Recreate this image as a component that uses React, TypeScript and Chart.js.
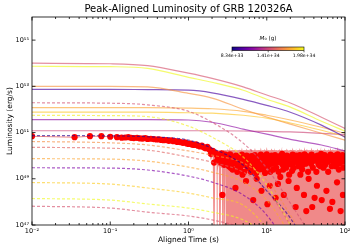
import React, { useEffect, useRef } from 'react';
import { Chart, registerables } from 'chart.js';

Chart.register(...registerables);

// ---------- data ----------
const xTickExponents = [-2, -1, 0, 1, 2];
const yTickExponents = [47, 49, 51, 53, 55];
const colorbarTicks = [8.34e33, 1.41e34, 1.98e34];

// model light curves, sampled at these times (s)
const modelTime = [0.01, 0.1, 0.3, 1, 2, 5, 10, 20, 50, 100];
const curve01 = [1.0e54, 9.5e53, 7.9e53, 3.7e53, 2.2e53, 9.5e52, 4.2e52, 1.9e52, 4.6e51, 1.5e51];
const curve02 = [7.4e53, 7.1e53, 6.0e53, 2.45e53, 1.5e53, 6.8e52, 2.75e52, 1.26e52, 3.1e51, 1.15e51];
const curve03 = [1.0e53, 1.0e53, 9.5e52, 5.0e52, 3.1e52, 1.02e52, 4.7e51, 2.3e51, 9.3e50, 4.7e50];
const curve04 = [7.4e52, 7.4e52, 7.2e52, 6.8e52, 5.25e52, 2.75e52, 1.5e52, 7.6e51, 2.1e51, 6.3e50];
const curve05 = [1.95e52, 1.86e52, 1.58e52, 8.3e51, 2.8e51, 3.5e50, 2.9e49, 8.9e47, 7.9e45, 4.0e44];
const curve06 = [1.2e52, 1.2e52, 1.2e52, 1.15e52, 1.07e52, 8.3e51, 5.6e51, 3.5e51, 1.7e51, 9.3e50];
const curve07 = [7.6e51, 7.6e51, 7.6e51, 7.2e51, 6.9e51, 5.6e51, 4.2e51, 2.6e51, 1.26e51, 6.9e50];
const curve08 = [5.6e51, 5.4e51, 4.9e51, 1.9e51, 6.3e50, 8.7e49, 5.4e48, 1.0e47, 3.2e44, 1.0e43];
const curve09 = [3.6e51, 3.6e51, 3.6e51, 3.5e51, 2.8e51, 1.4e51, 8.5e50, 5.1e50, 2.9e50, 1.6e50];
const curve10 = [1.2e51, 1.2e51, 1.2e51, 1.2e51, 1.2e51, 1.17e51, 1.12e51, 1.07e51, 9.3e50, 8.1e50];
const curve11 = [7.4e50, 7.2e50, 6.6e50, 4.7e50, 2.1e50, 3.9e49, 3.0e48, 2.0e47, 1.0e45, 2.0e43];
const curve12 = [4.1e50, 3.6e50, 2.9e50, 1.6e50, 1.05e50, 4.8e49, 8.7e48, 2.7e47, 1.15e45, 2.0e43];
const curve13 = [2.3e50, 2.1e50, 1.75e50, 8.7e49, 5.2e49, 1.95e49, 3.2e48, 1.0e47, 4.0e44, 7.9e42];
const curve14 = [7.4e49, 7.1e49, 5.8e49, 3.2e49, 1.95e49, 7.2e48, 1.2e48, 3.7e46, 1.6e44, 2.9e42];
const curve15 = [3.0e49, 2.9e49, 2.4e49, 1.3e49, 7.2e48, 2.0e48, 2.7e47, 8.3e45, 5.8e43, 1.1e42];
const curve16 = [6.9e48, 5.9e48, 4.0e48, 2.4e48, 1.5e48, 7.2e47, 7.4e46, 3.1e45, 3.2e43, 1.0e42];
const curve17 = [1.4e48, 1.2e48, 8.1e47, 5.4e47, 3.6e47, 1.66e47, 3.7e46, 3.1e45, 3.2e43, 1.0e42];
const curve18 = [6.5e47, 5.4e47, 3.6e47, 2.45e47, 1.66e47, 7.4e46, 2.2e46, 2.0e45, 2.0e43, 6.3e41];

// observed light curve (time s, luminosity erg/s, 1-sigma error erg/s)
const obsTime = [
  0.01, 0.035, 0.055, 0.077, 0.1, 0.122, 0.14, 0.155, 0.17, 0.185,
  0.2, 0.22, 0.24, 0.26, 0.28, 0.3, 0.33, 0.36, 0.39, 0.42,
  0.45, 0.48, 0.52, 0.56, 0.6, 0.64, 0.68, 0.72, 0.76, 0.8,
  0.85, 0.9, 0.95, 1.0, 1.06, 1.12, 1.18, 1.25, 1.32, 1.4,
  1.48, 1.56, 1.65, 1.74, 1.83, 1.93, 2.04, 2.12,
  2.2, 2.28, 2.36, 2.44, 2.53, 2.62, 2.71, 2.81, 2.91, 3.01,
  3.12, 3.23, 3.34, 3.46, 3.58, 3.71, 3.84, 3.98, 4.12, 4.27,
  4.42, 4.57, 4.73, 4.9, 5.08, 5.26, 5.44, 5.64, 5.84, 6.04,
  6.26, 6.48, 6.71, 6.94, 7.19, 7.44, 7.71, 7.98, 8.26, 8.56,
  8.86, 9.17, 9.5, 9.83, 10.2, 10.5, 10.9, 11.3, 11.7, 12.1,
  12.5, 13.0, 13.4, 13.9, 14.4, 14.9, 15.4, 16.0, 16.5, 17.1,
  17.7, 18.4, 19.0, 19.7, 20.4, 21.1, 21.8, 22.6, 23.4, 24.2,
  25.1, 26.0, 26.9, 27.9, 28.8, 29.9, 30.9, 32.0, 33.2, 34.3,
  35.6, 36.8, 38.1, 39.5, 40.9, 42.3, 43.8, 45.4, 47.0, 48.6,
  50.4, 52.1, 54.0, 55.9, 57.9, 59.9, 62.0, 64.2, 66.5, 68.9,
  71.3, 73.8, 76.4, 79.1, 81.9, 84.8, 87.8, 90.9, 94.1, 97.4,
  100,
  2.24, 2.32, 2.4, 2.49, 2.58, 2.67, 2.76, 2.86, 2.96, 3.06,
  3.17, 3.28, 3.4, 3.52, 3.65, 3.78, 3.91, 4.05, 4.2, 4.35,
  4.5, 4.65, 4.82, 4.99, 5.17, 5.35, 5.54, 5.74, 5.94, 6.15,
  6.37, 6.6, 6.83, 7.07, 7.32, 7.58, 7.85, 8.12, 8.41, 8.71,
  9.02, 9.34, 9.67, 10.0, 10.35, 10.7, 11.1, 11.5, 11.9, 12.3,
  12.75, 13.2, 13.65, 14.15, 14.65, 15.15, 15.7, 16.25, 16.8, 17.4,
  18.05, 18.7, 19.35, 20.05, 20.75, 21.45, 22.2, 23.0, 23.8, 24.65,
  25.55, 26.45, 27.4, 28.35, 29.35, 30.4, 31.45, 32.6, 33.75, 34.95,
  36.2, 37.45, 38.8, 40.2, 41.6, 43.05, 44.6, 46.2, 47.8, 49.5,
  51.25, 53.05, 54.95, 56.9, 58.9, 60.95, 63.1, 65.35, 67.7, 70.1,
  72.55, 75.1, 77.75, 80.5, 83.35, 86.3, 89.35, 92.5, 95.75, 98.7,
];
const obsLum = [
  7.0e50, 6.3e50, 7.0e50, 7.0e50, 6.6e50, 6.3e50, 6.0e50, 6.1e50, 6.3e50, 5.9e50,
  5.75e50, 5.9e50, 5.6e50, 5.5e50, 5.75e50, 5.3e50, 5.4e50, 5.2e50, 5.0e50, 5.1e50,
  4.8e50, 4.7e50, 4.75e50, 4.4e50, 4.6e50, 4.2e50, 4.3e50, 3.9e50, 4.1e50, 3.8e50,
  3.6e50, 3.8e50, 3.4e50, 3.2e50, 3.3e50, 3.0e50, 2.9e50, 3.1e50, 2.7e50, 2.5e50,
  2.7e50, 2.3e50, 2.1e50, 2.4e50, 1.9e50, 1.2e50, 1.6e50, 0.5e50,
  1.3e50, 1.15e50, 0.9e50, 1.1e50, 0.75e50, 1.0e50, 0.02e50, 0.95e50, 0.8e50, 0.85e50,
  0.7e50, 0.5e50, 0.8e50, 0.3e50, 0.6e50, 0.45e50, 0.9e50, 0.04e50, 0.55e50, 0.35e50,
  0.7e50, 0.25e50, 0.5e50, 0.15e50, 0.6e50, 0.4e50, 0.08e50, 0.55e50, 0.3e50, 0.75e50,
  0.2e50, 0.45e50, 0.012e50, 0.6e50, 0.35e50, 0.1e50, 0.5e50, 0.25e50, 0.8e50, 0.03e50,
  0.4e50, 0.65e50, 0.18e50, 0.5e50, 0.008e50, 0.7e50, 0.05e50, 0.45e50, 0.9e50, 0.25e50,
  0.6e50, 0.015e50, 0.5e50, 0.06e50, 0.8e50, 0.12e50, 0.55e50, 0.4e50, 0.02e50, 0.7e50,
  0.3e50, 0.6e50, 0.08e50, 0.45e50, 0.85e50, 0.22e50, 0.5e50, 0.6e50, 0.006e50, 0.04e50,
  0.75e50, 0.5e50, 0.15e50, 0.9e50, 0.4e50, 0.02e50, 0.65e50, 0.004e50, 0.55e50, 0.1e50,
  0.8e50, 0.45e50, 0.006e50, 0.6e50, 0.015e50, 0.7e50, 0.05e50, 0.5e50, 0.85e50, 0.35e50,
  0.012e50, 0.6e50, 0.75e50, 0.4e50, 0.03e50, 0.55e50, 0.9e50, 0.005e50, 0.65e50, 0.01e50,
  0.5e50, 0.8e50, 0.35e50, 0.07e50, 0.6e50, 0.45e50, 0.004e50, 0.7e50, 0.02e50, 0.55e50,
  0.65e50,
  1.2e50, 0.6e50, 1.05e50, 0.85e50, 0.5e50, 1.25e50, 0.7e50, 0.4e50, 1.1e50, 0.65e50,
  0.95e50, 0.35e50, 1.15e50, 0.6e50, 0.25e50, 0.85e50, 0.5e50, 1.0e50, 0.2e50, 0.75e50,
  0.9e50, 0.35e50, 1.1e50, 0.55e50, 0.2e50, 0.8e50, 1.0e50, 0.3e50, 0.65e50, 0.45e50,
  0.95e50, 0.3e50, 0.7e50, 1.05e50, 0.18e50, 0.55e50, 0.85e50, 0.4e50, 1.1e50, 0.6e50,
  0.25e50, 0.95e50, 0.55e50, 1.15e50, 0.35e50, 0.75e50, 0.2e50, 1.0e50, 0.45e50, 0.65e50,
  1.05e50, 0.3e50, 0.75e50, 0.2e50, 0.95e50, 0.5e50, 1.2e50, 0.25e50, 0.85e50, 0.45e50,
  1.0e50, 0.55e50, 0.15e50, 0.9e50, 0.4e50, 1.1e50, 0.3e50, 0.75e50, 1.0e50, 0.5e50,
  0.35e50, 1.05e50, 0.6e50, 0.25e50, 0.8e50, 1.15e50, 0.45e50, 0.95e50, 0.2e50, 0.7e50,
  0.55e50, 1.1e50, 0.3e50, 0.9e50, 0.65e50, 0.2e50, 1.0e50, 0.4e50, 0.75e50, 1.2e50,
  0.9e50, 0.3e50, 1.05e50, 0.5e50, 0.85e50, 0.2e50, 0.7e50, 1.1e50, 0.35e50, 0.95e50,
  0.4e50, 1.0e50, 0.6e50, 1.15e50, 0.25e50, 0.85e50, 0.55e50, 1.05e50, 0.3e50, 0.8e50,
];
const obsErr = [
  0.35e50, 0.35e50, 0.35e50, 0.35e50, 0.35e50, 0.35e50, 0.35e50, 0.35e50, 0.35e50, 0.35e50,
  0.35e50, 0.35e50, 0.35e50, 0.35e50, 0.35e50, 0.35e50, 0.35e50, 0.35e50, 0.35e50, 0.35e50,
  0.35e50, 0.35e50, 0.4e50, 0.4e50, 0.4e50, 0.4e50, 0.4e50, 0.4e50, 0.4e50, 0.4e50,
  0.4e50, 0.4e50, 0.4e50, 0.5e50, 0.5e50, 0.5e50, 0.5e50, 0.5e50, 0.5e50, 0.5e50,
  0.6e50, 0.6e50, 0.6e50, 0.6e50, 0.6e50, 0.6e50, 0.6e50, 0.6e50,
  0.45e50, 0.55e50, 0.7e50, 0.6e50, 0.85e50, 0.7e50, 1.5e50, 0.75e50, 0.9e50, 0.85e50,
  1.0e50, 1.2e50, 0.95e50, 1.4e50, 1.1e50, 1.25e50, 0.95e50, 1.6e50, 1.15e50, 1.35e50,
  1.0e50, 1.45e50, 1.2e50, 1.5e50, 1.1e50, 1.3e50, 1.6e50, 1.15e50, 1.4e50, 0.95e50,
  1.5e50, 1.25e50, 1.65e50, 1.1e50, 1.35e50, 1.6e50, 1.2e50, 1.45e50, 0.9e50, 1.6e50,
  1.3e50, 1.05e50, 1.5e50, 1.2e50, 1.65e50, 1.0e50, 1.65e50, 1.25e50, 0.95e50, 1.45e50,
  1.1e50, 1.7e50, 1.2e50, 1.6e50, 0.9e50, 1.55e50, 1.15e50, 1.3e50, 1.65e50, 1.0e50,
  1.4e50, 1.1e50, 1.6e50, 1.25e50, 0.9e50, 1.5e50, 1.2e50, 1.1e50, 1.65e50, 1.6e50,
  0.95e50, 1.2e50, 1.55e50, 0.95e50, 1.3e50, 1.65e50, 1.05e50, 1.7e50, 1.15e50, 1.6e50,
  0.9e50, 1.25e50, 1.7e50, 1.1e50, 1.65e50, 1.0e50, 1.65e50, 1.2e50, 0.9e50, 1.35e50,
  1.7e50, 1.1e50, 0.95e50, 1.3e50, 1.65e50, 1.15e50, 0.95e50, 1.7e50, 1.05e50, 1.7e50,
  1.2e50, 0.9e50, 1.35e50, 1.6e50, 1.1e50, 1.25e50, 1.7e50, 1.0e50, 1.65e50, 1.15e50,
  1.05e50,
  0.5e50, 1.1e50, 0.7e50, 0.9e50, 1.2e50, 0.5e50, 1.0e50, 1.35e50, 0.65e50, 1.05e50,
  1.0e50, 1.4e50, 1.2e50, 1.15e50, 1.5e50, 0.9e50, 1.25e50, 1.05e50, 1.55e50, 1.0e50,
  0.95e50, 1.4e50, 1.15e50, 1.2e50, 1.55e50, 0.95e50, 1.05e50, 1.45e50, 1.1e50, 1.3e50,
  1.0e50, 1.45e50, 1.05e50, 1.1e50, 1.55e50, 1.2e50, 0.9e50, 1.35e50, 1.15e50, 1.15e50,
  1.5e50, 1.0e50, 1.2e50, 1.2e50, 1.4e50, 1.0e50, 1.55e50, 1.05e50, 1.3e50, 1.1e50,
  1.1e50, 1.45e50, 1.0e50, 1.55e50, 1.0e50, 1.25e50, 1.25e50, 1.5e50, 0.9e50, 1.3e50,
  1.05e50, 1.2e50, 1.6e50, 0.95e50, 1.35e50, 1.15e50, 1.45e50, 1.0e50, 1.05e50, 1.25e50,
  1.4e50, 1.1e50, 1.15e50, 1.5e50, 0.95e50, 1.2e50, 1.3e50, 1.0e50, 1.55e50, 1.05e50,
  1.2e50, 1.15e50, 1.45e50, 0.95e50, 1.1e50, 1.55e50, 1.05e50, 1.35e50, 1.0e50, 1.25e50,
  0.95e50, 1.45e50, 1.1e50, 1.25e50, 0.9e50, 1.55e50, 1.05e50, 1.15e50, 1.4e50, 1.0e50,
  1.35e50, 1.05e50, 1.15e50, 1.2e50, 1.5e50, 0.9e50, 1.2e50, 1.1e50, 1.45e50, 0.95e50,
];

// ---------- styles (kept apart from data) ----------
const curveValues = [
  curve01, curve02, curve03, curve04, curve05, curve06, curve07, curve08, curve09,
  curve10, curve11, curve12, curve13, curve14, curve15, curve16, curve17, curve18,
];
const curveColors = [
  '#d5546e', '#f0f921', '#f89540', '#4903a0', '#d35171', '#fca636', '#fdc527', '#f3ee27', '#8f0da4',
  '#cc4778', '#2a0593', '#f68f44', '#e16462', '#fca636', '#7e03a8', '#fccd25', '#f0f921', '#d5546e',
];
const curveDashed = [
  false, false, false, false, true, false, false, true, false,
  false, true, true, true, true, true, true, true, true,
];
const plasmaStops = [
  '#0d0887', '#41049d', '#6a00a8', '#8f0da4', '#b12a90', '#cc4778',
  '#e16462', '#f2844b', '#fca636', '#fcce25', '#f0f921',
];

const FONT = "'DejaVu Sans', sans-serif";
const SUP: Record<string, string> = {
  '0': '⁰', '1': '¹', '2': '²', '3': '³', '4': '⁴', '5': '⁵', '6': '⁶', '7': '⁷', '8': '⁸', '9': '⁹', '-': '⁻',
};
const powLabel = (v: number) => {
  const e = Math.round(Math.log10(v));
  return '10' + String(e).split('').map((c) => SUP[c] || c).join('');
};

const framePlugin = {
  id: 'frameTicks',
  afterDatasetsDraw(chart: any) {
    const { ctx, chartArea, scales } = chart;
    const { left, right, top, bottom } = chartArea;
    const xs = scales.x;
    const ys = scales.y;
    ctx.save();
    ctx.strokeStyle = '#000';
    ctx.lineWidth = 0.8;
    ctx.strokeRect(left, top, right - left, bottom - top);
    ctx.beginPath();
    xTickExponents.forEach((e, idx) => {
      const x = xs.getPixelForValue(Math.pow(10, e));
      ctx.moveTo(x, bottom); ctx.lineTo(x, bottom - 3.5);
      ctx.moveTo(x, top); ctx.lineTo(x, top + 3.5);
      if (idx < xTickExponents.length - 1) {
        for (let m = 2; m <= 9; m++) {
          const xm = xs.getPixelForValue(m * Math.pow(10, e));
          ctx.moveTo(xm, bottom); ctx.lineTo(xm, bottom - 2);
          ctx.moveTo(xm, top); ctx.lineTo(xm, top + 2);
        }
      }
    });
    yTickExponents.forEach((e) => {
      const y = ys.getPixelForValue(Math.pow(10, e));
      ctx.moveTo(left, y); ctx.lineTo(left + 3.5, y);
      ctx.moveTo(right, y); ctx.lineTo(right - 3.5, y);
    });
    ctx.stroke();
    ctx.restore();
  },
  afterDraw(chart: any) {
    // colour bar inset
    const { ctx, chartArea } = chart;
    const x0 = chartArea.left + 200;
    const y0 = chartArea.top + 30;
    const w = 72;
    const h = 3.5;
    ctx.save();
    const grad = ctx.createLinearGradient(x0, 0, x0 + w, 0);
    plasmaStops.forEach((c, i) => grad.addColorStop(i / (plasmaStops.length - 1), c));
    ctx.fillStyle = grad;
    ctx.fillRect(x0, y0, w, h);
    ctx.strokeStyle = '#000';
    ctx.lineWidth = 0.6;
    ctx.strokeRect(x0, y0, w, h);
    const vmin = colorbarTicks[0];
    const vmax = colorbarTicks[colorbarTicks.length - 1];
    ctx.fillStyle = '#000';
    ctx.font = `4.6px ${FONT}`;
    ctx.textAlign = 'center';
    ctx.textBaseline = 'middle';
    colorbarTicks.forEach((v) => {
      const x = x0 + ((v - vmin) / (vmax - vmin)) * w;
      ctx.beginPath();
      ctx.moveTo(x, y0 + h);
      ctx.lineTo(x, y0 + h + 1.8);
      ctx.stroke();
      ctx.fillText(v.toExponential(2), x, y0 + h + 5.5);
    });
    ctx.textAlign = 'left';
    ctx.font = `italic 5.6px ${FONT}`;
    const wM = ctx.measureText('M').width;
    ctx.font = `5.6px ${FONT}`;
    const wRest = ctx.measureText('₀ (g)').width;
    const lx = x0 + w / 2 - (wM + wRest) / 2;
    const ly = y0 - 8;
    ctx.font = `italic 5.6px ${FONT}`;
    ctx.fillText('M', lx, ly);
    ctx.font = `5.6px ${FONT}`;
    ctx.fillText('₀ (g)', lx + wM, ly);
    ctx.restore();
  },
};

export default function App() {
  const canvasRef = useRef<HTMLCanvasElement | null>(null);

  useEffect(() => {
    const canvas = canvasRef.current;
    if (!canvas) return;

    const lineSets = curveValues.map((vals, i) => ({
      label: `model ${i + 1}`,
      data: modelTime.map((t, j) => ({ x: t, y: vals[j] })),
      showLine: true,
      borderColor: curveColors[i] + 'a6',
      borderWidth: 1.2,
      borderDash: curveDashed[i] ? [3, 2] : [],
      pointRadius: 0,
      cubicInterpolationMode: 'monotone' as const,
      fill: false,
      clip: 0,
    }));

    const obsPoints = obsTime.map((t, i) => ({ x: t, y: obsLum[i] }));

    const order = obsTime.map((_, i) => i).sort((a, b) => obsTime[a] - obsTime[b]);
    const upper = order.map((i) => ({ x: obsTime[i], y: obsLum[i] + obsErr[i] }));
    const lower = order.map((i) => {
      const lo = obsLum[i] - obsErr[i];
      return { x: obsTime[i], y: lo > 0 ? lo : 1e44 };
    });

    const obsSet = {
      label: 'GRB 120326A',
      data: obsPoints,
      showLine: false,
      pointRadius: 3.1,
      pointBackgroundColor: '#ff0000',
      pointBorderWidth: 0,
      borderWidth: 0,
      clip: 0,
    };
    const upperSet = {
      label: 'upper',
      data: upper,
      showLine: true,
      borderWidth: 0,
      borderColor: 'rgba(0,0,0,0)',
      pointRadius: 0,
      fill: false,
      tension: 0,
      clip: 0,
    };
    const lowerSet = {
      label: 'lower',
      data: lower,
      showLine: true,
      borderWidth: 0,
      borderColor: 'rgba(0,0,0,0)',
      pointRadius: 0,
      fill: '-1',
      backgroundColor: 'rgba(228, 40, 40, 0.55)',
      tension: 0,
      clip: 0,
    };

    const chart = new Chart(canvas, {
      type: 'scatter',
      data: { datasets: [...lineSets, obsSet, upperSet, lowerSet] as any },
      options: {
        responsive: false,
        animation: false,
        devicePixelRatio: 1,
        layout: { padding: { left: 0, right: 12, top: 0, bottom: 0 } },
        plugins: {
          legend: { display: false },
          tooltip: { enabled: false },
          filler: { propagate: false },
          title: {
            display: true,
            text: 'Peak-Aligned Luminosity of GRB 120326A',
            color: '#000',
            fullSize: false,
            font: { family: FONT, size: 10, weight: 'normal' },
            padding: { top: 3, bottom: 2 },
          },
        },
        scales: {
          x: {
            type: 'logarithmic',
            min: 0.01,
            max: 100,
            grid: { display: false, drawTicks: false },
            border: { display: false },
            afterBuildTicks: (s: any) => {
              s.ticks = xTickExponents.map((e) => ({ value: Math.pow(10, e) }));
            },
            afterFit: (s: any) => { s.height = 27; },
            ticks: {
              autoSkip: false,
              maxRotation: 0,
              padding: 2,
              color: '#000',
              font: { family: FONT, size: 6.5 },
              callback: (v: any) => powLabel(Number(v)),
            },
            title: {
              display: true,
              text: 'Aligned Time (s)',
              color: '#000',
              font: { family: FONT, size: 7.5 },
              padding: { top: 0, bottom: 7 },
            },
          },
          y: {
            type: 'logarithmic',
            min: 1e47,
            max: 1e56,
            grid: { display: false, drawTicks: false },
            border: { display: false },
            afterBuildTicks: (s: any) => {
              s.ticks = yTickExponents.map((e) => ({ value: Math.pow(10, e) }));
            },
            afterFit: (s: any) => { s.width = 32; },
            ticks: {
              autoSkip: false,
              padding: 3,
              color: '#000',
              font: { family: FONT, size: 6.5 },
              callback: (v: any) => powLabel(Number(v)),
            },
            title: {
              display: true,
              text: 'Luminosity (erg/s)',
              color: '#000',
              font: { family: FONT, size: 7.5 },
              padding: { top: 6, bottom: 0 },
            },
          },
        },
      },
      plugins: [framePlugin],
    } as any);

    return () => chart.destroy();
  }, []);

  return (
    <div style={{ position: 'absolute', left: 0, top: 0, width: 357, height: 252, background: '#fff' }}>
      <canvas ref={canvasRef} width={357} height={252} style={{ width: 357, height: 252, display: 'block' }} />
    </div>
  );
}
